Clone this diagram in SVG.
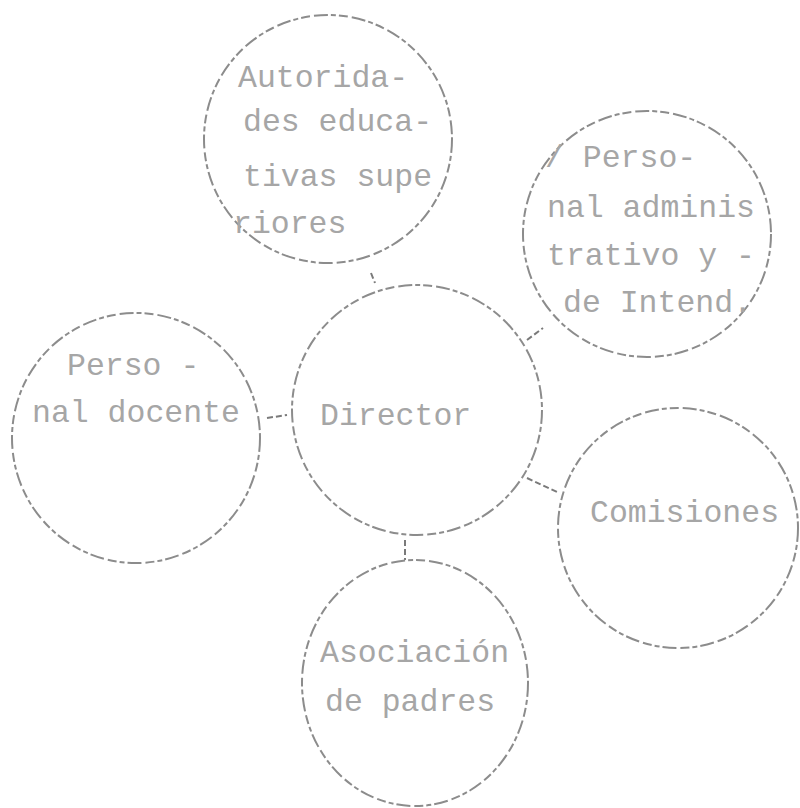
<svg xmlns="http://www.w3.org/2000/svg" width="800" height="808" viewBox="0 0 800 808">
<style>
.c{fill:none;stroke:#8c8c8c;stroke-width:2;stroke-dasharray:14 3 5 3 9 4}
.t{font-family:"Liberation Mono","DejaVu Sans Mono",monospace;font-size:31.5px;fill:#a6a6a6}
.k{stroke:#7a7a7a;stroke-width:2;fill:none;stroke-dasharray:6 3}
</style>
<rect width="800" height="808" fill="#fff"/>
<g id="connectors">
<line class="k" x1="371" y1="273" x2="375" y2="283"/>
<line class="k" x1="527" y1="340" x2="543" y2="328"/>
<line class="k" x1="267" y1="418" x2="287" y2="415"/>
<line class="k" x1="527" y1="478" x2="557" y2="492"/>
<line class="k" x1="405" y1="540" x2="405" y2="560"/>
</g>
<g id="autoridades">
<circle class="c" cx="328" cy="139" r="124"/>
<text class="t" x="238" y="87">Autorida-</text>
<text class="t" x="243" y="131">des educa-</text>
<text class="t" x="243" y="186">tivas supe</text>
<text class="t" x="233" y="233">riores</text>
</g>
<g id="personal-administrativo">
<ellipse class="c" cx="647" cy="234" rx="124" ry="123"/>
<text class="t" x="545" y="167">/ Perso-</text>
<text class="t" x="547" y="217">nal adminis</text>
<text class="t" x="547" y="265">trativo y -</text>
<text class="t" x="563" y="312">de Intend.</text>
</g>
<g id="personal-docente">
<ellipse class="c" cx="136" cy="438" rx="124" ry="125"/>
<text class="t" x="67" y="375">Perso -</text>
<text class="t" x="32" y="422">nal docente</text>
</g>
<g id="director">
<circle class="c" cx="417" cy="410" r="125"/>
<text class="t" x="320" y="425">Director</text>
</g>
<g id="comisiones">
<circle class="c" cx="678" cy="528" r="120"/>
<text class="t" x="590" y="522">Comisiones</text>
</g>
<g id="asociacion">
<ellipse class="c" cx="415" cy="683" rx="113" ry="123"/>
<text class="t" x="320" y="662">Asociación</text>
<text class="t" x="325" y="711">de padres</text>
</g>
</svg>
